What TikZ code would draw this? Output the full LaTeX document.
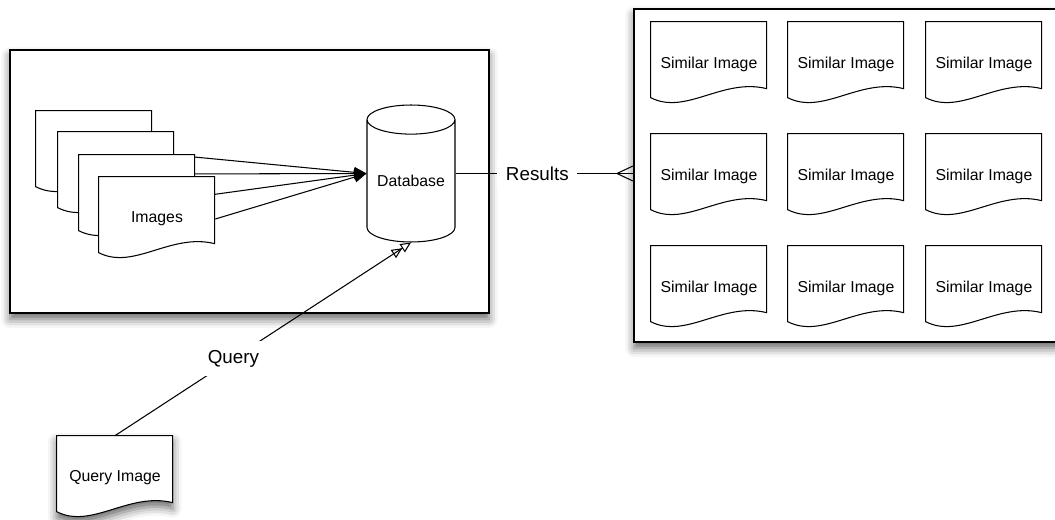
\documentclass[tikz,border=0pt]{standalone}
\usepackage{fontspec}
\setmainfont{Liberation Sans}
\usetikzlibrary{arrows.meta,shapes.geometric,shadows.blur}

\begin{document}
\begin{tikzpicture}[x=0.02cm,y=-0.02cm,
  lbl/.style={font=\fontsize{10.7}{13}\selectfont,fill=white,inner sep=5pt},
  softshadow/.style={blur shadow={shadow xshift=0pt,shadow yshift=-3.5pt,shadow blur radius=5pt,shadow opacity=60}},
  panel/.style={draw,fill=white,line width=0.8pt,inner sep=0pt,softshadow},
  docline/.style={draw,fill=white,line width=0.6pt},
  doc/.style={inner sep=0pt,minimum width=2.32cm,minimum height=1.68cm,
    font=\fontsize{9}{11}\selectfont,
    append after command={\pgfextra{\draw[docline,#1]
      (\tikzlastnode.north west) -- ([shift={(116,0)}]\tikzlastnode.north west)
      -- ([shift={(116,67)}]\tikzlastnode.north west)
      .. controls ([shift={(72,56)}]\tikzlastnode.north west) and ([shift={(35,94)}]\tikzlastnode.north west)
      .. ([shift={(0,76)}]\tikzlastnode.north west) -- cycle;}}},
  doc/.default={},
  db/.style={cylinder,shape border rotate=90,draw,fill=white,line width=0.6pt,aspect=0.43,
    minimum width=1.76cm,minimum height=2.74cm,inner sep=0pt,anchor=shape center,
    font=\fontsize{9}{11}\selectfont},
  feed/.style={line width=0.6pt,-{Triangle[length=7pt,width=6pt]}},
  ask/.style={line width=0.6pt,-{Triangle[open,length=6pt,width=5.5pt]Triangle[open,length=6pt,width=5.5pt]}},
  crow/.style={line width=0.6pt,-{Straight Barb[reversed,length=9pt,width=8.5pt]},postaction={draw,-}}]
  \useasboundingbox (0,0) rectangle (1055,520);
  % the store: images going into the database
  \node[panel,minimum width=9.58cm,minimum height=5.26cm] (store) at (249.5,181.5) {};
  \node[db] (base) at (411,173.5) {Database};
  \foreach \k/\x/\y/\txt in {1/94/153/{},2/116/174/{},3/137/197/{},4/157/219/Images} {
    \node[doc] (img\k) at (\x,\y) {\txt};
    \draw[feed] (img\k.east) -- (base.shape center -| base.west);
  }
  % the results
  \node[panel,minimum width=8.62cm,minimum height=6.66cm] (grid) at (849.5,175.5) {};
  \foreach \col/\x in {1/709,2/846,3/984}
    \foreach \row/\y in {1/64,2/176,3/288}
      \node[doc] (sim\row\col) at (\x,\y) {Similar Image};
  \node[doc={softshadow}] (query) at (115,478) {Query Image};
  % connectors
  \draw[crow] (base.shape center -| base.east) -- node[lbl,pos=0.46] {Results} (base.shape center -| grid.west);
  \draw[ask] (query.north) -- node[lbl,pos=0.4] {Query} (base.south);
\end{tikzpicture}
\end{document}
